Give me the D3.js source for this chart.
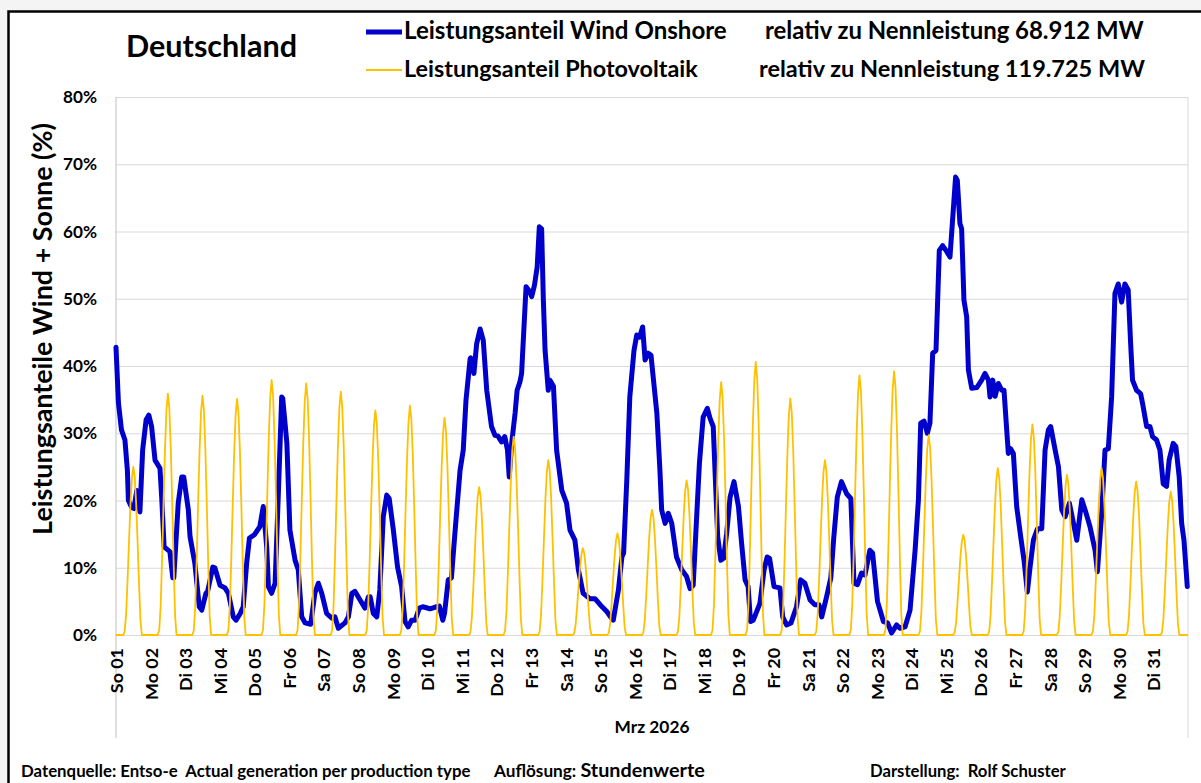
<!DOCTYPE html>
<html>
<head>
<meta charset="utf-8">
<script src="https://cdn.jsdelivr.net/npm/d3@7/dist/d3.min.js"></script>
<style>
  html, body { margin: 0; padding: 0; background: #f4f4f4; }
  svg { display: block; }
  text { font-family: Lato, "Open Sans", sans-serif; font-weight: 700; fill: #000; white-space: pre; }
</style>
</head>
<body>
<svg id="chart" width="1201" height="783"></svg>
<script>
// Tageslabels der x-Achse (Mrz 2026)
const dayLabels = ['So 01', 'Mo 02', 'Di 03', 'Mi 04', 'Do 05', 'Fr 06', 'Sa 07', 'So 08', 'Mo 09', 'Di 10',
  'Mi 11', 'Do 12', 'Fr 13', 'Sa 14', 'So 15', 'Mo 16', 'Di 17', 'Mi 18', 'Do 19', 'Fr 20',
  'Sa 21', 'So 22', 'Mo 23', 'Di 24', 'Mi 25', 'Do 26', 'Fr 27', 'Sa 28', 'So 29', 'Mo 30', 'Di 31'];

const yTicks = [0, 10, 20, 30, 40, 50, 60, 70, 80];

const windShare = [
  [0, 42.8], [1.7, 34.5], [3.8, 30.5], [6.2, 29], [7.9, 24.5], [8.6, 20], [10.8, 19], [12.5, 18.8],
  [14.4, 21.5], [16.6, 18.3], [18.5, 27.5], [20.9, 32], [22.8, 32.7], [24.7, 31], [27.1, 26], [30.5, 24.8],
  [31.7, 20.5], [33.4, 13.1], [37.4, 12.4], [39.4, 8.5], [40.1, 8.5], [43.2, 19.6], [45.6, 23.5], [47, 23.5],
  [50.2, 18.6], [51.4, 14.6], [54.7, 10.7], [57.8, 4.2], [59.5, 3.7], [62.4, 6.2], [63.6, 6.5], [67.2, 10.1],
  [68.6, 10], [72.2, 7.4], [75.6, 7], [78, 6.2], [81.4, 2.7], [83.3, 2.2], [86.2, 3.2], [88.3, 4.2],
  [90.7, 10.7], [92.6, 14.4], [96, 14.9], [99.8, 16.1], [102.2, 19.1], [104.6, 13.1], [105.8, 7.2], [108, 6.2],
  [110.4, 7.7], [112.6, 20.5], [115, 35.4], [115.7, 35.2], [118.6, 28.5], [120.7, 15.6], [124.3, 11.1], [126.5, 9.7],
  [128.9, 2.7], [131.3, 1.8], [135.1, 1.6], [138, 6.2], [140.4, 7.7], [142.8, 6.2], [146.2, 3.2], [149.8, 2.5],
  [151.9, 2.7], [154.3, 1.0], [158.9, 1.8], [161.3, 2.7], [163.7, 6.2], [165.8, 6.5], [169.4, 5.2], [172.8, 4.0],
  [175.2, 5.7], [176.4, 5.7], [178.6, 3.2], [181, 2.7], [183.1, 6.7], [185.5, 17.6], [187.9, 20.8], [189.6, 20.3],
  [192.5, 15.6], [195.4, 10.1], [198.2, 7.2], [200.6, 2.0], [202.8, 1.2], [205.2, 2.2], [207.6, 2.2], [210.5, 4.0],
  [212.9, 4.2], [217.9, 3.9], [222.5, 4.2], [224.4, 4.3], [226.8, 2.2], [228, 3.2], [230.6, 8.2], [232.8, 8.5],
  [235.2, 15.1], [238.8, 24.5], [241, 27.5], [242.9, 34.9], [245.8, 41.1], [246.2, 41.2], [248.4, 38.9], [250.3, 43.3],
  [252.7, 45.5], [254.9, 43.8], [257.3, 36.4], [260.6, 31.0], [263, 29.7], [265, 29.6], [267.6, 28.7], [269.8, 29.5],
  [271.7, 27.5], [272.9, 23.5], [274.6, 28.5], [277, 33], [278.4, 36.4], [280.3, 37.6], [281.5, 38.9], [284.6, 51.8],
  [287.3, 51.0], [288.5, 50.3], [290.4, 52.0], [292.3, 54.7], [293.8, 60.7], [295.4, 60.4], [296.6, 49.8], [297.8, 42.3],
  [300, 36.4], [301.2, 37.9], [303.6, 37.0], [305.8, 27.5], [309.4, 21.5], [312.7, 19.6], [315.1, 15.6], [318.5, 14.1],
  [320.9, 9.7], [324.2, 6.2], [329, 5.4], [332.4, 5.4], [336, 4.5], [340.6, 3.5], [343.9, 2.5], [345.1, 2.2],
  [348.7, 6.7], [351.1, 11.6], [352.3, 12.2], [354.5, 23], [356.6, 35.4], [359.5, 42.3], [361.4, 44.6], [363.4, 44.3],
  [365.5, 45.8], [367.2, 40.9], [369.4, 41.9], [371.3, 41.6], [375.4, 32.9], [377.5, 24.5], [378.7, 18.6], [381.1, 16.6],
  [383.3, 18.1], [385.7, 16.6], [389, 11.6], [392.6, 9.7], [396, 8.7], [398.4, 6.9], [400.6, 7.4], [403, 17.6],
  [404.9, 25.5], [407.5, 32.4], [410.4, 33.7], [412.3, 32.2], [414.5, 31], [417.6, 14.6], [419.8, 11.1], [421.7, 11.4],
  [423.8, 15.1], [426.2, 20.5], [428.9, 22.8], [432, 19.1], [434.2, 13.6], [436.6, 8.2], [438.7, 7.2], [440.4, 2.0],
  [442.3, 2.2], [446.9, 4.7], [449.8, 9.7], [451.9, 11.6], [453.6, 11.4], [456.7, 7.2], [460.8, 7.0], [462.7, 2.7],
  [465.4, 1.5], [468.5, 1.8], [472.3, 4.2], [475.2, 8.2], [478.1, 7.7], [481.7, 5.2], [485, 4.5], [487.9, 4.5],
  [489.8, 2.7], [493.2, 5.7], [496.1, 8.5], [498.2, 14.6], [500.6, 20.5], [503.5, 22.8], [507.1, 21.0], [510, 20.3],
  [512.2, 7.7], [514.6, 7.5], [517.4, 9.2], [519.8, 8.9], [523.2, 12.6], [525.1, 12.2], [528.5, 5.0], [532.6, 2.0],
  [535.5, 1.8], [538.3, 0.3], [541.8, 1.5], [544.1, 1.0], [547.6, 1.2], [551.1, 3.7], [554.6, 12.6], [556.9, 20.1],
  [558.5, 31.5], [560.8, 31.8], [563.1, 30.0], [564.9, 31.5], [566.8, 41.9], [569.1, 42.3], [571.4, 57.2], [573.7, 57.9],
  [576, 57.2], [578.8, 56.2], [581.1, 63.2], [582.7, 68.1], [583.9, 67.6], [585.7, 61.2], [586.9, 60.4], [588.5, 49.8],
  [590.4, 47.3], [591.6, 39.4], [593.9, 36.7], [597.4, 36.8], [600.8, 37.9], [603.1, 38.9], [605.5, 37.9], [606.6, 35.4],
  [608.5, 37.9], [610.1, 35.5], [612.4, 37.4], [614.7, 36.4], [616.3, 36.4], [619.3, 27.0], [620.9, 27.7], [622.8, 27.0],
  [625.1, 19.1], [627.9, 14.6], [630.2, 11.1], [632.5, 6.4], [634.4, 10.1], [636.7, 14.1], [639.5, 15.8], [642.5, 15.8],
  [644.8, 27.5], [647.1, 30.5], [648.7, 31], [651.8, 27.5], [654.1, 25.0], [656.4, 18.6], [658.7, 17.6], [661.7, 19.6],
  [664.5, 16.6], [666.8, 14.1], [670.3, 20.1], [672.6, 18.6], [676, 16.1], [679.5, 12.6], [681.1, 9.4], [684.1, 18.1],
  [686.4, 27.5], [688.7, 27.7], [691, 35.4], [693.3, 50.8], [695.6, 52.2], [697.9, 49.5], [700.2, 52.2], [702.5, 51.3],
  [704.2, 43.3], [705.5, 37.9], [708.3, 36.4], [711.1, 35.9], [712.5, 34.4], [715.3, 31], [717.6, 31], [719.4, 29.5],
  [722.2, 29.0], [724.5, 27.5], [726.8, 22.5], [729.1, 22.1], [730.9, 26], [733.7, 28.5], [735.6, 28.0], [737.9, 23.5],
  [739.6, 16.6], [741.2, 14.1], [743.5, 7.2]
];

// Photovoltaik: Tagesspitze je Tag (%) und Tagesgang (Anteil der Spitze je Stunde)
const pvPeak = [25.0, 35.9, 35.6, 35.1, 37.9, 37.4, 36.2, 33.4, 34.1, 32.3,
  22.0, 29.5, 26.0, 12.9, 15.1, 18.6, 23.0, 37.6, 40.6, 35.2,
  26.0, 38.6, 39.2, 29.7, 14.9, 24.8, 31.3, 23.8, 24.8, 22.8, 21.3];
const pvDayShape = [0, 0, 0, 0, 0, 0, 0.02, 0.12, 0.32, 0.55, 0.77, 0.93,
  1, 0.94, 0.78, 0.55, 0.3, 0.08, 0, 0, 0, 0, 0, 0];

const pvShare = [];
pvPeak.forEach((p, d) => {
  pvDayShape.forEach((f, h) => pvShare.push([d * 24 + h, p * f]));
});
pvShare.push([744, 0]);

const plotLeft = 116, plotRight = 1188, plotTop = 97, plotBottom = 635;

const svg = d3.select('#chart');

// Rahmen
svg.append('rect').attr('x', 8.5).attr('y', 11.5).attr('width', 1400).attr('height', 1000)
  .attr('fill', '#fff').attr('stroke', '#000').attr('stroke-width', 2.5);

const x = d3.scaleLinear().domain([0, 744]).range([plotLeft, plotRight]);
const y = d3.scaleLinear().domain([0, 80]).range([plotBottom, plotTop]);

// helper: Schriftgröße so wählen, dass der Text die Zielbreite hat
function fit(sel, w) {
  const len = sel.node().getComputedTextLength();
  const fs = parseFloat(sel.attr('font-size'));
  sel.attr('font-size', fs * w / len);
  return sel;
}

// y-Achse mit Gitterlinien
const yAxis = svg.append('g')
  .attr('transform', `translate(${plotLeft},0)`)
  .call(d3.axisLeft(y).tickValues(yTicks).tickSize(-(plotRight - plotLeft)).tickPadding(19)
    .tickFormat(d => d + '%'));
yAxis.select('.domain').remove();
yAxis.selectAll('line').attr('stroke', '#d9d9d9');
yAxis.selectAll('text').attr('font-size', 17).attr('font-family', null);
{
  const t = yAxis.selectAll('text').filter(d => d === 80);
  const fs = 17 * 34 / t.node().getComputedTextLength();
  yAxis.selectAll('text').attr('font-size', fs);
}

// senkrechte Linien des Diagrammbereichs
svg.append('line').attr('x1', plotLeft).attr('x2', plotLeft).attr('y1', plotTop).attr('y2', 738)
  .attr('stroke', '#bfbfbf');
svg.append('line').attr('x1', plotRight).attr('x2', plotRight).attr('y1', plotTop).attr('y2', 738)
  .attr('stroke', '#d9d9d9');

// x-Achse
const xAxis = svg.append('g')
  .attr('transform', `translate(0,${plotBottom})`)
  .call(d3.axisBottom(x).tickValues(dayLabels.map((d, i) => i * 24)).tickSize(0)
    .tickFormat((d, i) => dayLabels[i]));
xAxis.select('.domain').remove();
xAxis.selectAll('text')
  .attr('font-family', null)
  .attr('font-size', 18)
  .attr('transform', 'rotate(-90)')
  .attr('text-anchor', 'end')
  .attr('x', -13).attr('y', 0).attr('dy', '0.36em');
{
  const t = xAxis.selectAll('text').filter((d, i) => i === 1);
  const fs = 18 * 52 / t.node().getComputedTextLength();
  xAxis.selectAll('text').attr('font-size', fs);
}

// Linien
const line = d3.line().x(d => x(d[0])).y(d => y(d[1]));

svg.append('path').datum(windShare)
  .attr('fill', 'none').attr('stroke', '#0000cc').attr('stroke-width', 5)
  .attr('stroke-linejoin', 'round').attr('stroke-linecap', 'round')
  .attr('d', line);

svg.append('path').datum(pvShare)
  .attr('fill', 'none').attr('stroke', '#ffc000').attr('stroke-width', 1.8)
  .attr('stroke-linejoin', 'round')
  .attr('d', line);

// Titel und Legende
fit(svg.append('text').attr('x', 126).attr('y', 57).attr('font-size', 28).text('Deutschland'), 171);

svg.append('line').attr('x1', 366).attr('x2', 402).attr('y1', 32).attr('y2', 32)
  .attr('stroke', '#0000cc').attr('stroke-width', 5);
svg.append('line').attr('x1', 366).attr('x2', 402).attr('y1', 70).attr('y2', 70)
  .attr('stroke', '#ffc000').attr('stroke-width', 1.8);

fit(svg.append('text').attr('x', 404).attr('y', 39).attr('font-size', 22)
  .text('Leistungsanteil Wind Onshore'), 323);
fit(svg.append('text').attr('x', 404).attr('y', 77).attr('font-size', 22)
  .text('Leistungsanteil Photovoltaik'), 294);
fit(svg.append('text').attr('x', 765).attr('y', 39).attr('font-size', 22)
  .text('relativ zu Nennleistung 68.912 MW'), 379);
fit(svg.append('text').attr('x', 759).attr('y', 77).attr('font-size', 22)
  .text('relativ zu Nennleistung 119.725 MW'), 386);

// Achsentitel
fit(svg.append('text').attr('transform', 'translate(43,329) rotate(-90)')
  .attr('text-anchor', 'middle').attr('dy', '0.35em').attr('font-size', 24)
  .text('Leistungsanteile Wind + Sonne (%)'), 412);

fit(svg.append('text').attr('x', 652).attr('y', 733).attr('text-anchor', 'middle')
  .attr('font-size', 18).text('Mrz 2026'), 75);

// Fußzeile
fit(svg.append('text').attr('x', 21).attr('y', 777).attr('font-size', 15)
  .text('Datenquelle: Entso-e  Actual generation per production type'), 450);
{
  const t = svg.append('text').attr('x', 494).attr('y', 777).attr('font-size', 15);
  t.append('tspan').text('Auflösung: ');
  t.append('tspan').attr('font-size', '1.15em').text('Stundenwerte');
  fit(t, 211);
}
fit(svg.append('text').attr('x', 870).attr('y', 777).attr('font-size', 15)
  .text('Darstellung:  Rolf Schuster'), 196);
</script>
</body>
</html>
